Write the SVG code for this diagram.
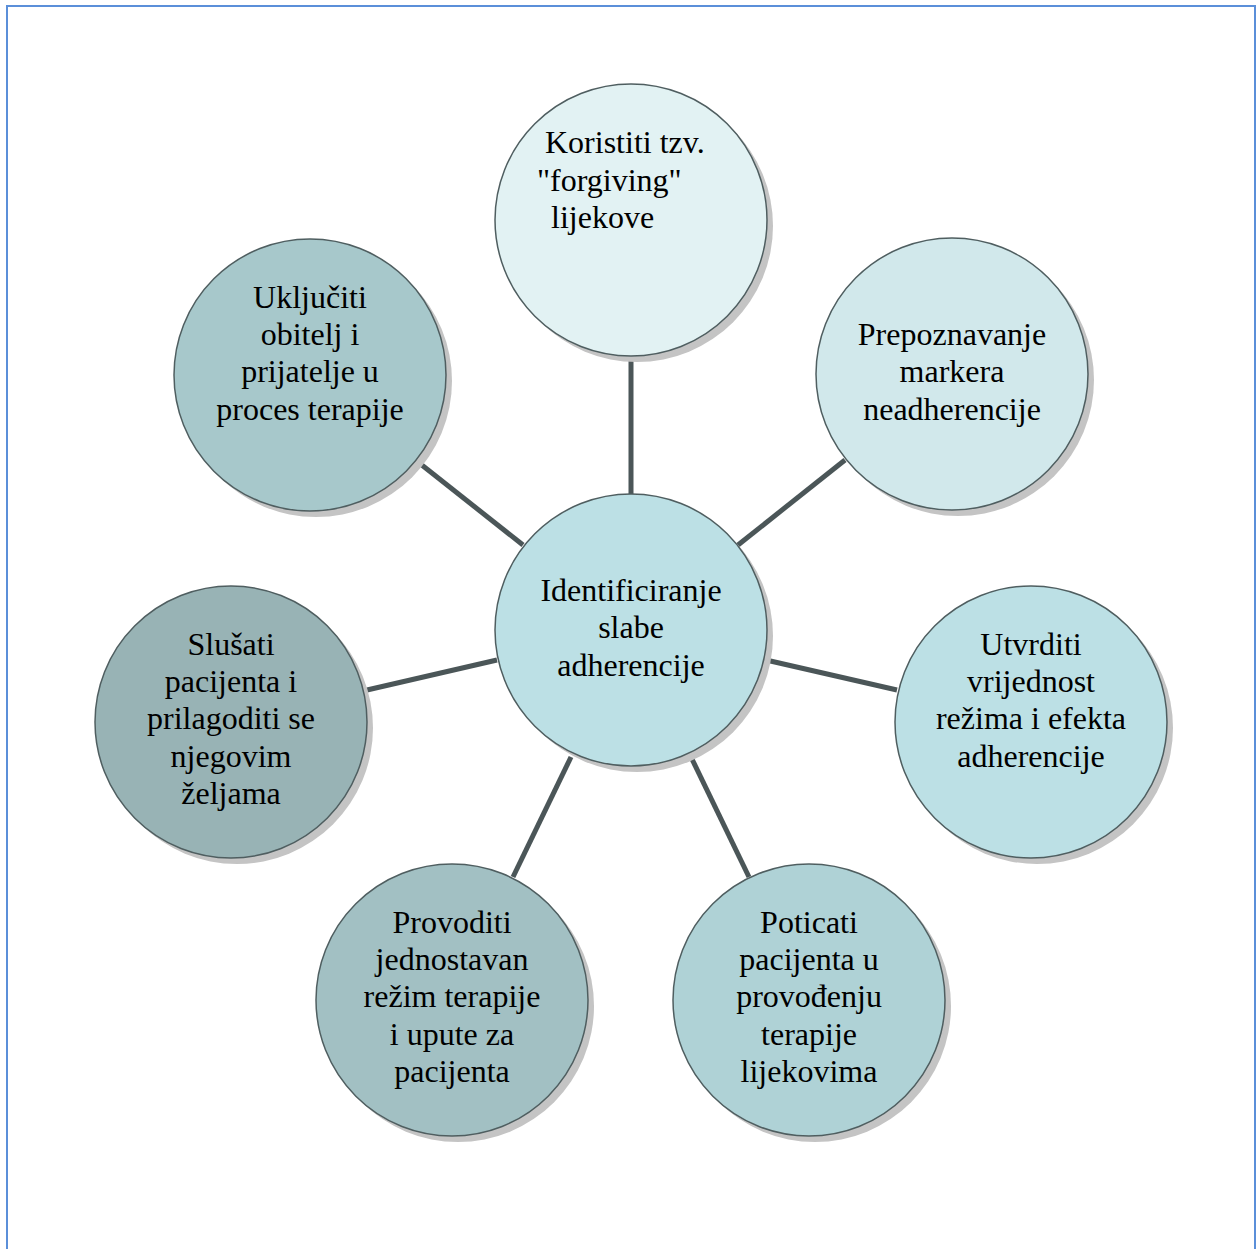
<svg xmlns="http://www.w3.org/2000/svg" width="1256" height="1249" viewBox="0 0 1256 1249">
<style>
.sh{fill:#c4c4c4}
.c{stroke:#4f5e60;stroke-width:1.5}
.t{font-family:"Liberation Serif","Times New Roman",serif;font-size:32px;fill:#000;text-anchor:middle}
.tl{font-family:"Liberation Serif","Times New Roman",serif;font-size:32px;fill:#000}
.ln{stroke:#4b5658;stroke-width:5;fill:none}
</style>
<rect x="0" y="0" width="1256" height="1249" fill="#fff"/>
<rect x="7" y="6" width="1248" height="1260" fill="none" stroke="#5b8fd9" stroke-width="2"/>
<g id="connectors">
<line class="ln" x1="631" y1="356" x2="631" y2="494"/>
<line class="ln" x1="418" y1="462" x2="523" y2="545"/>
<line class="ln" x1="845" y1="460" x2="738" y2="545"/>
<line class="ln" x1="367" y1="690" x2="497" y2="660"/>
<line class="ln" x1="766" y1="660" x2="897" y2="690"/>
<line class="ln" x1="513" y1="877" x2="571" y2="757"/>
<line class="ln" x1="749" y1="877" x2="691" y2="757"/>
</g>
<g id="n-center">
<circle class="sh" cx="637" cy="636" r="136"/>
<circle class="c" cx="631" cy="630" r="136" fill="#bce0e5"/>
<text class="t" x="631" y="601">Identificiranje</text>
<text class="t" x="631" y="638">slabe</text>
<text class="t" x="631" y="676">adherencije</text>
</g>
<g id="n-top">
<circle class="sh" cx="637" cy="226" r="136"/>
<circle class="c" cx="631" cy="220" r="136" fill="#e2f2f3"/>
<text class="tl" x="545" y="153">Koristiti tzv.</text>
<text class="tl" x="537" y="191">"forgiving"</text>
<text class="tl" x="551" y="228">lijekove</text>
</g>
<g id="n-righttop">
<circle class="sh" cx="958" cy="380" r="136"/>
<circle class="c" cx="952" cy="374" r="136" fill="#d1e8eb"/>
<text class="t" x="952" y="345">Prepoznavanje</text>
<text class="t" x="952" y="382">markera</text>
<text class="t" x="952" y="420">neadherencije</text>
</g>
<g id="n-right">
<circle class="sh" cx="1037" cy="728" r="136"/>
<circle class="c" cx="1031" cy="722" r="136" fill="#bce0e5"/>
<text class="t" x="1031" y="655">Utvrditi</text>
<text class="t" x="1031" y="692">vrijednost</text>
<text class="t" x="1031" y="729">režima i efekta</text>
<text class="t" x="1031" y="767">adherencije</text>
</g>
<g id="n-bottomright">
<circle class="sh" cx="815" cy="1006" r="136"/>
<circle class="c" cx="809" cy="1000" r="136" fill="#afd2d6"/>
<text class="t" x="809" y="933">Poticati</text>
<text class="t" x="809" y="970">pacijenta u</text>
<text class="t" x="809" y="1007">provođenju</text>
<text class="t" x="809" y="1045">terapije</text>
<text class="t" x="809" y="1082">lijekovima</text>
</g>
<g id="n-bottomleft">
<circle class="sh" cx="458" cy="1006" r="136"/>
<circle class="c" cx="452" cy="1000" r="136" fill="#a2c0c3"/>
<text class="t" x="452" y="933">Provoditi</text>
<text class="t" x="452" y="970">jednostavan</text>
<text class="t" x="452" y="1007">režim terapije</text>
<text class="t" x="452" y="1045">i upute za</text>
<text class="t" x="452" y="1082">pacijenta</text>
</g>
<g id="n-left">
<circle class="sh" cx="237" cy="728" r="136"/>
<circle class="c" cx="231" cy="722" r="136" fill="#98b3b5"/>
<text class="t" x="231" y="655">Slušati</text>
<text class="t" x="231" y="692">pacijenta i</text>
<text class="t" x="231" y="729">prilagoditi se</text>
<text class="t" x="231" y="767">njegovim</text>
<text class="t" x="231" y="804">željama</text>
</g>
<g id="n-lefttop">
<circle class="sh" cx="316" cy="381" r="136"/>
<circle class="c" cx="310" cy="375" r="136" fill="#a7c8cb"/>
<text class="t" x="310" y="308">Uključiti</text>
<text class="t" x="310" y="345">obitelj i</text>
<text class="t" x="310" y="382">prijatelje u</text>
<text class="t" x="310" y="420">proces terapije</text>
</g>
</svg>
